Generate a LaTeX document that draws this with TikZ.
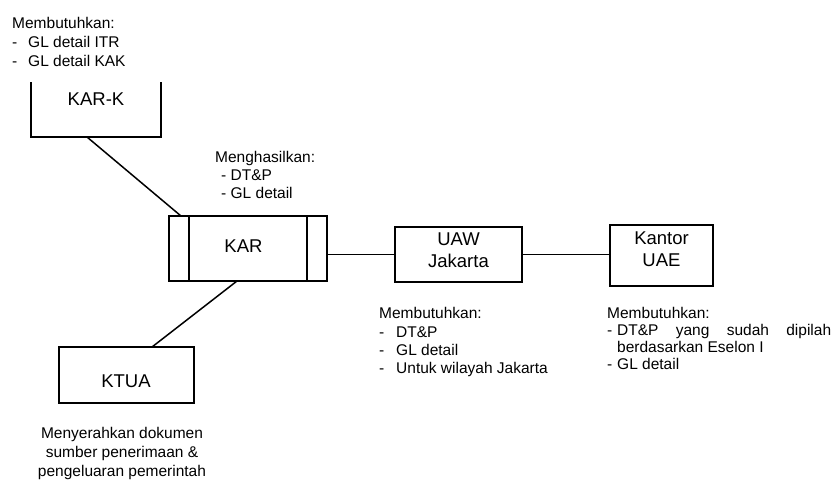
\documentclass[tikz,border=0pt]{standalone}
\usepackage{fontspec}
\setmainfont{Liberation Sans}
\usetikzlibrary{calc}
\begin{document}
\begin{tikzpicture}[x=1pt,y=-1pt,
  wire/.style={line width=1.5pt, line cap=rect},
  box/.style={draw, line width=1.5pt, inner sep=0pt, outer sep=0pt},
  openbox/.style={inner sep=0pt, outer sep=0pt},
  boxlabel/.style={inner sep=0pt, align=center, font=\fontsize{18.5}{21.5}\selectfont},
  note/.style={inner sep=0pt, align=left, anchor=north west},
]
\fill[white] (0,0) rectangle (832,480);
\useasboundingbox (0,0) rectangle (832,480);

% KAR-K: box open at the top
\node[openbox, minimum width=130pt, minimum height=55pt] (kark) at (96,109.5) {};
\draw[wire, line cap=butt] (kark.north west) -- (kark.south west) -- (kark.south east) -- (kark.north east);
\node[boxlabel] (karktext) at (96,99.5) {KAR-K};

% KAR: box with side bars
\node[box, minimum width=158pt, minimum height=65pt] (kar) at (248,248.5) {};
\draw[wire, line cap=butt] ($(kar.north west)+(20,0)$) -- ($(kar.south west)+(20,0)$);
\draw[wire, line cap=butt] ($(kar.north east)+(-20,0)$) -- ($(kar.south east)+(-20,0)$);
\node[boxlabel] (kartext) at (243.5,246.5) {KAR};

% UAW Jakarta
\node[box, minimum width=127pt, minimum height=55pt] (uaw) at (458.5,254.5) {};
\node[boxlabel] (uawtext) at (458.5,250) {UAW\\Jakarta};

% Kantor UAE
\node[box, minimum width=103pt, minimum height=61pt] (uae) at (661.5,255.5) {};
\node[boxlabel] (uaetext) at (661.5,249) {Kantor\\UAE};

% KTUA
\node[box, minimum width=135pt, minimum height=56pt] (ktua) at (126.5,375) {};
\node[boxlabel] (ktuatext) at (126,381.5) {KTUA};

% connectors
\draw[wire, line cap=butt] ($(kark.south west)+(56,0)$) -- ($(kar.north west)+(12,0)$);
\draw[wire, line cap=butt] (kar.east |- uaw.west) -- (uaw.west);
\draw[wire, line cap=butt] (uaw.east) -- (uae.west |- uaw.east);
\draw[wire, line cap=butt] ($(kar.south west)+(68,0)$) -- ($(ktua.north west)+(93,0)$);

% notes
\node[note, font=\fontsize{15.5}{19}\selectfont] (needk) at (12,17.5)
  {Membutuhkan:\\
   \makebox[16pt][l]{-}GL detail ITR\\
   \makebox[16pt][l]{-}GL detail KAK};

\node[note, font=\fontsize{15.5}{18}\selectfont] (makekar) at (215,151.5)
  {Menghasilkan:\\
   \hspace*{6pt}- DT\&P\\
   \hspace*{6pt}- GL detail};

\node[note, font=\fontsize{15.5}{18.3}\selectfont] (needuaw) at (379,307.5)
  {Membutuhkan:\\
   \makebox[17pt][l]{-}DT\&P\\
   \makebox[17pt][l]{-}GL detail\\
   \makebox[17pt][l]{-}Untuk wilayah Jakarta};

\node[note, font=\fontsize{15.5}{16.8}\selectfont] (needuae) at (607,307.5)
  {Membutuhkan:\\
   \makebox[10pt][l]{-}\makebox[214pt][s]{DT\&P yang sudah dipilah}\\
   \hspace*{10pt}berdasarkan Eselon I\\
   \makebox[10pt][l]{-}GL detail};

\node[inner sep=0pt, align=center, anchor=north, font=\fontsize{15.5}{19}\selectfont] (givektua) at (122,427.5)
  {Menyerahkan dokumen\\
   sumber penerimaan \&\\
   pengeluaran pemerintah};
\end{tikzpicture}
\end{document}
